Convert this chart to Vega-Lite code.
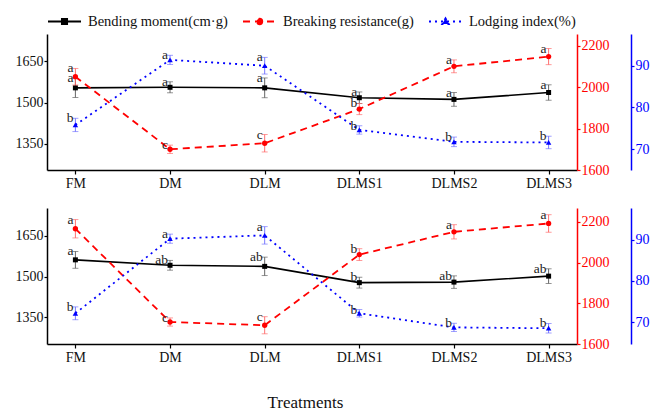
{
  "$schema": "https://vega.github.io/schema/vega-lite/v6.json",
  "padding": {"left": 15, "top": 4, "right": 5, "bottom": 3},
  "config": {
    "view": {"stroke": null},
    "font": "Liberation Serif",
    "axis": {"grid": false, "labelFont": "Liberation Serif", "labelFontSize": 14, "titleFont": "Liberation Serif", "domainWidth": 1.5, "tickWidth": 1.2},
    "legend": {"labelFont": "Liberation Serif", "labelFontSize": 14.5, "labelColor": "#111", "symbolSize": 1089, "symbolStrokeWidth": 1.8, "labelOffset": 6, "columnPadding": 11, "offset": 6, "orient": "top", "direction": "horizontal", "title": null}
  },
  "data": {"values": [
    {"p": "top", "t": "FM", "s": "bend", "m": 1554, "lo": 1519, "hi": 1589, "l": "a"},
    {"p": "top", "t": "DM", "s": "bend", "m": 1556, "lo": 1536, "hi": 1576, "l": "a"},
    {"p": "top", "t": "DLM", "s": "bend", "m": 1554, "lo": 1518, "hi": 1590, "l": "a"},
    {"p": "top", "t": "DLMS1", "s": "bend", "m": 1518, "lo": 1497, "hi": 1539, "l": "a"},
    {"p": "top", "t": "DLMS2", "s": "bend", "m": 1512, "lo": 1487, "hi": 1537, "l": "a"},
    {"p": "top", "t": "DLMS3", "s": "bend", "m": 1537, "lo": 1509, "hi": 1565, "l": "a"},
    {"p": "top", "t": "FM", "s": "break", "m": 2050, "lo": 2010, "hi": 2090, "l": "a"},
    {"p": "top", "t": "DM", "s": "break", "m": 1700, "lo": 1680, "hi": 1720, "l": "c"},
    {"p": "top", "t": "DLM", "s": "break", "m": 1729, "lo": 1687, "hi": 1771, "l": "c"},
    {"p": "top", "t": "DLMS1", "s": "break", "m": 1894, "lo": 1867, "hi": 1921, "l": "b"},
    {"p": "top", "t": "DLMS2", "s": "break", "m": 2100, "lo": 2069, "hi": 2131, "l": "a"},
    {"p": "top", "t": "DLMS3", "s": "break", "m": 2147, "lo": 2108, "hi": 2186, "l": "a"},
    {"p": "top", "t": "FM", "s": "lodge", "m": 75.8, "lo": 74.2, "hi": 77.4, "l": "b"},
    {"p": "top", "t": "DM", "s": "lodge", "m": 91.4, "lo": 90.3, "hi": 92.5, "l": "a"},
    {"p": "top", "t": "DLM", "s": "lodge", "m": 90, "lo": 88, "hi": 92, "l": "a"},
    {"p": "top", "t": "DLMS1", "s": "lodge", "m": 74.6, "lo": 73.6, "hi": 75.6, "l": "b"},
    {"p": "top", "t": "DLMS2", "s": "lodge", "m": 71.75, "lo": 70.6, "hi": 72.9, "l": "b"},
    {"p": "top", "t": "DLMS3", "s": "lodge", "m": 71.6, "lo": 70.1, "hi": 73.1, "l": "b"},
    {"p": "bot", "t": "FM", "s": "bend", "m": 1562, "lo": 1531, "hi": 1593, "l": "a"},
    {"p": "bot", "t": "DM", "s": "bend", "m": 1542, "lo": 1524, "hi": 1560, "l": "ab"},
    {"p": "bot", "t": "DLM", "s": "bend", "m": 1538, "lo": 1504, "hi": 1572, "l": "ab"},
    {"p": "bot", "t": "DLMS1", "s": "bend", "m": 1478, "lo": 1458, "hi": 1498, "l": "b"},
    {"p": "bot", "t": "DLMS2", "s": "bend", "m": 1480, "lo": 1457, "hi": 1503, "l": "ab"},
    {"p": "bot", "t": "DLMS3", "s": "bend", "m": 1502, "lo": 1475, "hi": 1529, "l": "ab"},
    {"p": "bot", "t": "FM", "s": "break", "m": 2166, "lo": 2121, "hi": 2211, "l": "a"},
    {"p": "bot", "t": "DM", "s": "break", "m": 1708, "lo": 1688, "hi": 1728, "l": "c"},
    {"p": "bot", "t": "DLM", "s": "break", "m": 1692, "lo": 1650, "hi": 1734, "l": "c"},
    {"p": "bot", "t": "DLMS1", "s": "break", "m": 2039, "lo": 2010, "hi": 2068, "l": "b"},
    {"p": "bot", "t": "DLMS2", "s": "break", "m": 2151, "lo": 2116, "hi": 2186, "l": "a"},
    {"p": "bot", "t": "DLMS3", "s": "break", "m": 2192, "lo": 2149, "hi": 2235, "l": "a"},
    {"p": "bot", "t": "FM", "s": "lodge", "m": 72.2, "lo": 70.65, "hi": 73.75, "l": "b"},
    {"p": "bot", "t": "DM", "s": "lodge", "m": 90.2, "lo": 89.1, "hi": 91.3, "l": "a"},
    {"p": "bot", "t": "DLM", "s": "lodge", "m": 91, "lo": 88.9, "hi": 93.1, "l": "a"},
    {"p": "bot", "t": "DLMS1", "s": "lodge", "m": 72.2, "lo": 71.3, "hi": 73.1, "l": "b"},
    {"p": "bot", "t": "DLMS2", "s": "lodge", "m": 68.8, "lo": 67.8, "hi": 69.8, "l": "b"},
    {"p": "bot", "t": "DLMS3", "s": "lodge", "m": 68.6, "lo": 67.45, "hi": 69.75, "l": "b"}
  ]},
  "spacing": 17,
  "vconcat": [
    {
      "width": 530, "height": 136,
      "transform": [{"filter": "datum.p == 'top'"}],
      "encoding": {"x": {"field": "t", "type": "nominal", "sort": ["FM", "DM", "DLM", "DLMS1", "DLMS2", "DLMS3"], "scale": {"type": "point", "padding": 0.3}, "axis": {"title": null, "labelAngle": 0, "labelFont": "Liberation Serif", "domainColor": "#000", "tickColor": "#000", "tickSize": 4, "labelColor": "#111", "labelPadding": 2, "labelFontSize": 14}}},
      "layer": [
        {
          "transform": [{"filter": "datum.s == 'bend'"}],
          "layer": [
            {"mark": {"type": "rule", "color": "#555", "strokeWidth": 0.9}, "encoding": {"y": {"field": "lo", "type": "quantitative", "title": null, "scale": {"domain": [1255, 1750], "nice": false, "zero": false}, "axis": {"orient": "left", "values": [1350, 1500, 1650], "format": "d", "labelFont": "Liberation Serif", "domainColor": "#000", "tickColor": "#000", "tickSize": 3, "labelPadding": 1, "labelColor": "#111"}}, "y2": {"field": "hi"}}},
            {"mark": {"type": "tick", "color": "#555", "size": 6, "thickness": 0.9}, "encoding": {"y": {"field": "lo", "type": "quantitative", "title": null, "scale": {"domain": [1255, 1750], "nice": false, "zero": false}}}},
            {"mark": {"type": "tick", "color": "#555", "size": 6, "thickness": 0.9}, "encoding": {"y": {"field": "hi", "type": "quantitative", "title": null, "scale": {"domain": [1255, 1750], "nice": false, "zero": false}}}},
            {"mark": {"type": "line", "color": "#000", "strokeWidth": 1.6}, "encoding": {"y": {"field": "m", "type": "quantitative", "title": null, "scale": {"domain": [1255, 1750], "nice": false, "zero": false}}}},
            {"mark": {"type": "point", "shape": "square", "filled": true, "color": "#000", "size": 25, "opacity": 1}, "encoding": {"y": {"field": "m", "type": "quantitative", "title": null, "scale": {"domain": [1255, 1750], "nice": false, "zero": false}}}},
            {"mark": {"type": "text", "font": "Liberation Serif", "fontSize": 13.5, "color": "#222", "align": "right", "baseline": "alphabetic", "dx": -2, "dy": 4}, "encoding": {"y": {"field": "hi", "type": "quantitative", "title": null, "scale": {"domain": [1255, 1750], "nice": false, "zero": false}}, "text": {"field": "l"}}}
          ]
        },
        {
          "transform": [{"filter": "datum.s == 'break'"}],
          "layer": [
            {"mark": {"type": "rule", "color": "#FF6060", "strokeWidth": 0.9}, "encoding": {"y": {"field": "lo", "type": "quantitative", "title": null, "scale": {"domain": [1600, 2256], "nice": false, "zero": false}, "axis": {"orient": "right", "values": [1600, 1800, 2000, 2200], "format": "d", "labelFont": "Liberation Serif", "domainColor": "#FF0000", "tickColor": "#FF0000", "tickSize": 3, "labelPadding": 1, "labelColor": "#FF0000"}}, "y2": {"field": "hi"}}},
            {"mark": {"type": "tick", "color": "#FF6060", "size": 6, "thickness": 0.9}, "encoding": {"y": {"field": "lo", "type": "quantitative", "title": null, "scale": {"domain": [1600, 2256], "nice": false, "zero": false}}}},
            {"mark": {"type": "tick", "color": "#FF6060", "size": 6, "thickness": 0.9}, "encoding": {"y": {"field": "hi", "type": "quantitative", "title": null, "scale": {"domain": [1600, 2256], "nice": false, "zero": false}}}},
            {"mark": {"type": "line", "color": "#FF0000", "strokeWidth": 1.8, "strokeDash": [7, 5]}, "encoding": {"y": {"field": "m", "type": "quantitative", "title": null, "scale": {"domain": [1600, 2256], "nice": false, "zero": false}}}},
            {"mark": {"type": "point", "shape": "circle", "filled": true, "color": "#FF0000", "size": 28, "opacity": 1}, "encoding": {"y": {"field": "m", "type": "quantitative", "title": null, "scale": {"domain": [1600, 2256], "nice": false, "zero": false}}}},
            {"mark": {"type": "text", "font": "Liberation Serif", "fontSize": 13.5, "color": "#222", "align": "right", "baseline": "alphabetic", "dx": -2, "dy": 4}, "encoding": {"y": {"field": "hi", "type": "quantitative", "title": null, "scale": {"domain": [1600, 2256], "nice": false, "zero": false}}, "text": {"field": "l"}}}
          ]
        },
        {
          "transform": [{"filter": "datum.s == 'lodge'"}],
          "layer": [
            {"mark": {"type": "rule", "color": "#6A6AFF", "strokeWidth": 0.9}, "encoding": {"y": {"field": "lo", "type": "quantitative", "title": null, "scale": {"domain": [65, 97.6], "nice": false, "zero": false}, "axis": {"orient": "right", "offset": 54, "values": [70, 80, 90], "format": "d", "labelFont": "Liberation Serif", "domainColor": "#0000FF", "tickColor": "#0000FF", "tickSize": 3, "labelPadding": 1, "labelColor": "#0000FF"}}, "y2": {"field": "hi"}}},
            {"mark": {"type": "tick", "color": "#6A6AFF", "size": 6, "thickness": 0.9}, "encoding": {"y": {"field": "lo", "type": "quantitative", "title": null, "scale": {"domain": [65, 97.6], "nice": false, "zero": false}}}},
            {"mark": {"type": "tick", "color": "#6A6AFF", "size": 6, "thickness": 0.9}, "encoding": {"y": {"field": "hi", "type": "quantitative", "title": null, "scale": {"domain": [65, 97.6], "nice": false, "zero": false}}}},
            {"mark": {"type": "line", "color": "#0000FF", "strokeWidth": 1.8, "strokeDash": [2, 4]}, "encoding": {"y": {"field": "m", "type": "quantitative", "title": null, "scale": {"domain": [65, 97.6], "nice": false, "zero": false}}}},
            {"mark": {"type": "point", "shape": "triangle-up", "filled": true, "color": "#0000FF", "size": 30, "opacity": 1}, "encoding": {"y": {"field": "m", "type": "quantitative", "title": null, "scale": {"domain": [65, 97.6], "nice": false, "zero": false}}}},
            {"mark": {"type": "text", "font": "Liberation Serif", "fontSize": 13.5, "color": "#222", "align": "right", "baseline": "alphabetic", "dx": -2, "dy": 4}, "encoding": {"y": {"field": "hi", "type": "quantitative", "title": null, "scale": {"domain": [65, 97.6], "nice": false, "zero": false}}, "text": {"field": "l"}}}
          ]
        },
        {
          "transform": [{"filter": "false"}],
          "mark": {"type": "point", "filled": true, "opacity": 1},
          "encoding": {
            "fill": {"field": "s", "type": "nominal", "scale": {"domain": ["Bending moment(cm·g)", "Breaking resistance(g)", "Lodging index(%)"], "range": ["#000000", "#FF0000", "#0000FF"]}},
            "stroke": {"field": "s", "type": "nominal", "scale": {"domain": ["Bending moment(cm·g)", "Breaking resistance(g)", "Lodging index(%)"], "range": ["#000000", "#FF0000", "#0000FF"]}},
            "shape": {"field": "s", "type": "nominal", "scale": {"domain": ["Bending moment(cm·g)", "Breaking resistance(g)", "Lodging index(%)"], "range": ["M-1,0H1M-0.16,-0.16H0.16V0.16H-0.16Z", "M-1,0H1M0.17,0A0.17,0.17,0,1,1,-0.17,0A0.17,0.17,0,1,1,0.17,0Z", "M-1,0H1M0,-0.2L0.2,0.15H-0.2Z"]}},
            "strokeDash": {"field": "s", "type": "nominal", "scale": {"domain": ["Bending moment(cm·g)", "Breaking resistance(g)", "Lodging index(%)"], "range": [[1, 0], [7, 5], [2, 4]]}}
          }
        }
      ],
      "resolve": {"scale": {"y": "independent"}}
    },
    {
      "width": 530, "height": 136,
      "transform": [{"filter": "datum.p == 'bot'"}],
      "encoding": {"x": {"field": "t", "type": "nominal", "sort": ["FM", "DM", "DLM", "DLMS1", "DLMS2", "DLMS3"], "scale": {"type": "point", "padding": 0.3}, "axis": {"title": "Treatments", "titleFont": "Liberation Serif", "titleFontSize": 17, "titleFontWeight": "normal", "titleColor": "#111", "titlePadding": 30, "titleX": 258, "labelAngle": 0, "labelFont": "Liberation Serif", "domainColor": "#000", "tickColor": "#000", "tickSize": 4, "labelColor": "#111", "labelPadding": 2, "labelFontSize": 14}}},
      "layer": [
        {
          "transform": [{"filter": "datum.s == 'bend'"}],
          "layer": [
            {"mark": {"type": "rule", "color": "#555", "strokeWidth": 0.9}, "encoding": {"y": {"field": "lo", "type": "quantitative", "title": null, "scale": {"domain": [1252, 1753], "nice": false, "zero": false}, "axis": {"orient": "left", "values": [1350, 1500, 1650], "format": "d", "labelFont": "Liberation Serif", "domainColor": "#000", "tickColor": "#000", "tickSize": 3, "labelPadding": 1, "labelColor": "#111"}}, "y2": {"field": "hi"}}},
            {"mark": {"type": "tick", "color": "#555", "size": 6, "thickness": 0.9}, "encoding": {"y": {"field": "lo", "type": "quantitative", "title": null, "scale": {"domain": [1252, 1753], "nice": false, "zero": false}}}},
            {"mark": {"type": "tick", "color": "#555", "size": 6, "thickness": 0.9}, "encoding": {"y": {"field": "hi", "type": "quantitative", "title": null, "scale": {"domain": [1252, 1753], "nice": false, "zero": false}}}},
            {"mark": {"type": "line", "color": "#000", "strokeWidth": 1.6}, "encoding": {"y": {"field": "m", "type": "quantitative", "title": null, "scale": {"domain": [1252, 1753], "nice": false, "zero": false}}}},
            {"mark": {"type": "point", "shape": "square", "filled": true, "color": "#000", "size": 25, "opacity": 1}, "encoding": {"y": {"field": "m", "type": "quantitative", "title": null, "scale": {"domain": [1252, 1753], "nice": false, "zero": false}}}},
            {"mark": {"type": "text", "font": "Liberation Serif", "fontSize": 13.5, "color": "#222", "align": "right", "baseline": "alphabetic", "dx": -2, "dy": 4}, "encoding": {"y": {"field": "hi", "type": "quantitative", "title": null, "scale": {"domain": [1252, 1753], "nice": false, "zero": false}}, "text": {"field": "l"}}}
          ]
        },
        {
          "transform": [{"filter": "datum.s == 'break'"}],
          "layer": [
            {"mark": {"type": "rule", "color": "#FF6060", "strokeWidth": 0.9}, "encoding": {"y": {"field": "lo", "type": "quantitative", "title": null, "scale": {"domain": [1600, 2268], "nice": false, "zero": false}, "axis": {"orient": "right", "values": [1600, 1800, 2000, 2200], "format": "d", "labelFont": "Liberation Serif", "domainColor": "#FF0000", "tickColor": "#FF0000", "tickSize": 3, "labelPadding": 1, "labelColor": "#FF0000"}}, "y2": {"field": "hi"}}},
            {"mark": {"type": "tick", "color": "#FF6060", "size": 6, "thickness": 0.9}, "encoding": {"y": {"field": "lo", "type": "quantitative", "title": null, "scale": {"domain": [1600, 2268], "nice": false, "zero": false}}}},
            {"mark": {"type": "tick", "color": "#FF6060", "size": 6, "thickness": 0.9}, "encoding": {"y": {"field": "hi", "type": "quantitative", "title": null, "scale": {"domain": [1600, 2268], "nice": false, "zero": false}}}},
            {"mark": {"type": "line", "color": "#FF0000", "strokeWidth": 1.8, "strokeDash": [7, 5]}, "encoding": {"y": {"field": "m", "type": "quantitative", "title": null, "scale": {"domain": [1600, 2268], "nice": false, "zero": false}}}},
            {"mark": {"type": "point", "shape": "circle", "filled": true, "color": "#FF0000", "size": 28, "opacity": 1}, "encoding": {"y": {"field": "m", "type": "quantitative", "title": null, "scale": {"domain": [1600, 2268], "nice": false, "zero": false}}}},
            {"mark": {"type": "text", "font": "Liberation Serif", "fontSize": 13.5, "color": "#222", "align": "right", "baseline": "alphabetic", "dx": -2, "dy": 4}, "encoding": {"y": {"field": "hi", "type": "quantitative", "title": null, "scale": {"domain": [1600, 2268], "nice": false, "zero": false}}, "text": {"field": "l"}}}
          ]
        },
        {
          "transform": [{"filter": "datum.s == 'lodge'"}],
          "layer": [
            {"mark": {"type": "rule", "color": "#6A6AFF", "strokeWidth": 0.9}, "encoding": {"y": {"field": "lo", "type": "quantitative", "title": null, "scale": {"domain": [64.8, 97.6], "nice": false, "zero": false}, "axis": {"orient": "right", "offset": 54, "values": [70, 80, 90], "format": "d", "labelFont": "Liberation Serif", "domainColor": "#0000FF", "tickColor": "#0000FF", "tickSize": 3, "labelPadding": 1, "labelColor": "#0000FF"}}, "y2": {"field": "hi"}}},
            {"mark": {"type": "tick", "color": "#6A6AFF", "size": 6, "thickness": 0.9}, "encoding": {"y": {"field": "lo", "type": "quantitative", "title": null, "scale": {"domain": [64.8, 97.6], "nice": false, "zero": false}}}},
            {"mark": {"type": "tick", "color": "#6A6AFF", "size": 6, "thickness": 0.9}, "encoding": {"y": {"field": "hi", "type": "quantitative", "title": null, "scale": {"domain": [64.8, 97.6], "nice": false, "zero": false}}}},
            {"mark": {"type": "line", "color": "#0000FF", "strokeWidth": 1.8, "strokeDash": [2, 4]}, "encoding": {"y": {"field": "m", "type": "quantitative", "title": null, "scale": {"domain": [64.8, 97.6], "nice": false, "zero": false}}}},
            {"mark": {"type": "point", "shape": "triangle-up", "filled": true, "color": "#0000FF", "size": 30, "opacity": 1}, "encoding": {"y": {"field": "m", "type": "quantitative", "title": null, "scale": {"domain": [64.8, 97.6], "nice": false, "zero": false}}}},
            {"mark": {"type": "text", "font": "Liberation Serif", "fontSize": 13.5, "color": "#222", "align": "right", "baseline": "alphabetic", "dx": -2, "dy": 4}, "encoding": {"y": {"field": "hi", "type": "quantitative", "title": null, "scale": {"domain": [64.8, 97.6], "nice": false, "zero": false}}, "text": {"field": "l"}}}
          ]
        }
      ],
      "resolve": {"scale": {"y": "independent"}}
    }
  ]
}
